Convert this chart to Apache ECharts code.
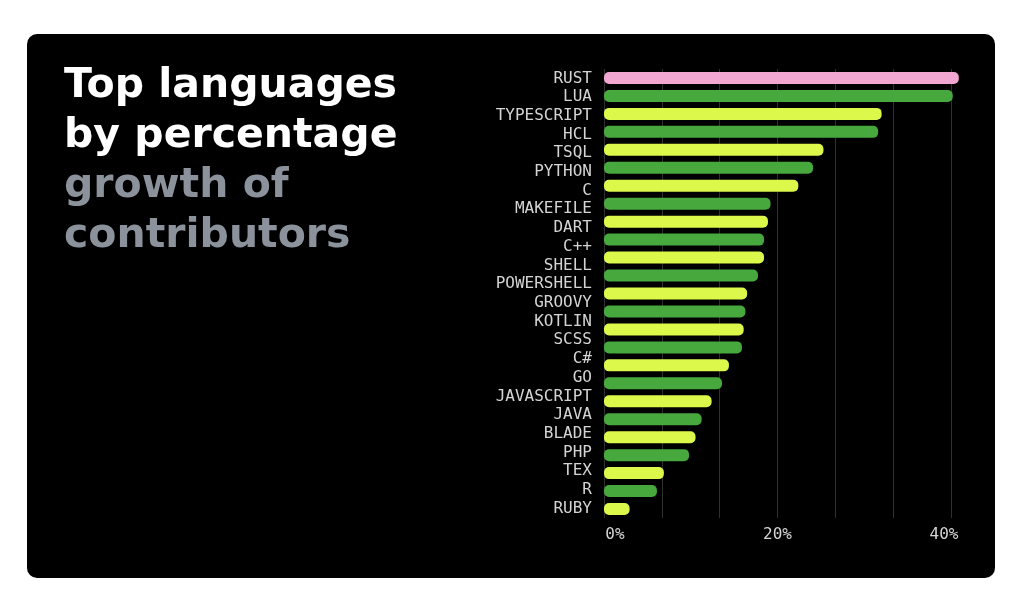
<!DOCTYPE html>
<html>
<head>
<meta charset="utf-8">
<script src="https://cdn.jsdelivr.net/npm/echarts@6/dist/echarts.min.js"></script>
<style>
  html, body { margin: 0; padding: 0; background: #ffffff; }
  #panel { position: absolute; left: 27px; top: 34px; width: 968px; height: 544px; background: #000000; border-radius: 10px; }
  #chart { position: absolute; left: 0; top: 0; width: 1024px; height: 608px; }
</style>
</head>
<body>
<div id="panel"></div>
<div id="chart"></div>
<script>
const titleLines = ['Top languages', 'by percentage'];
const subtitleLines = ['growth of', 'contributors'];
// Label column as printed (24 names)
const categories = ['RUST', 'LUA', 'TYPESCRIPT', 'HCL', 'TSQL', 'PYTHON', 'C', 'MAKEFILE', 'DART', 'C++',
  'SHELL', 'POWERSHELL', 'GROOVY', 'KOTLIN', 'SCSS', 'C#', 'GO', 'JAVASCRIPT', 'JAVA', 'BLADE',
  'PHP', 'TEX', 'R', 'RUBY'];
// Bar column as drawn (25 bars, top to bottom)
const growthPct = [40.9, 40.2, 32.0, 31.6, 25.3, 24.1, 22.4, 19.2, 18.9, 18.45,
  18.45, 17.75, 16.5, 16.3, 16.1, 15.9, 14.4, 13.6, 12.4, 11.25,
  10.55, 9.8, 6.9, 6.1, 2.95];
const axisTicks = [0, 20, 40];

const PINK = '#f2a6d2', GREEN = '#47a83e', LIME = '#dbf84b';
function barColor(i) { return i === 0 ? PINK : (i % 2 === 1 ? GREEN : LIME); }

const chart = echarts.init(document.getElementById('chart'), null, { renderer: 'canvas' });
const monoFont = '"DejaVu Sans Mono", monospace';
const titleFont = '"DejaVu Sans", sans-serif';
const labelColor = '#d4d4d4';

chart.setOption({
  backgroundColor: 'transparent',
  animation: false,
  title: {
    left: 59,
    top: 56,
    text: '{w|' + titleLines.join('}\n{w|') + '}\n{g|' + subtitleLines.join('}\n{g|') + '}',
    textStyle: {
      rich: {
        w: { color: '#ffffff', fontFamily: titleFont, fontWeight: 'bold', fontSize: 41, lineHeight: 50 },
        g: { color: '#8b929b', fontFamily: titleFont, fontWeight: 'bold', fontSize: 41, lineHeight: 50 }
      }
    }
  },
  grid: { left: 604, right: 73, top: 69, bottom: 90, containLabel: false, outerBoundsMode: 'none' },
  xAxis: {
    type: 'value',
    min: axisTicks[0],
    max: axisTicks[axisTicks.length - 1],
    interval: axisTicks[1] - axisTicks[0],
    axisLine: { show: false },
    axisTick: { show: false },
    minorTick: { show: false, splitNumber: 3 },
    splitLine: { show: true, lineStyle: { color: '#303030', width: 1 } },
    minorSplitLine: { show: true, lineStyle: { color: '#303030', width: 1 } },
    axisLabel: {
      margin: 9,
      color: labelColor,
      fontFamily: monoFont,
      fontSize: 16,
      formatter: function (v) {
        const r = Math.round(v);
        if (r === 0) return '{l|' + r + '%}';
        if (r === 40) return '{m|' + r + '%}';
        return '{c|' + r + '%}';
      },
      rich: {
        l: { fontFamily: monoFont, fontSize: 16, color: labelColor, padding: [0, 0, 0, 22] },
        c: { fontFamily: monoFont, fontSize: 16, color: labelColor },
        m: { fontFamily: monoFont, fontSize: 16, color: labelColor, padding: [0, 14, 0, 0] }
      }
    }
  },
  yAxis: [{
    type: 'category',
    position: 'left',
    inverse: true,
    data: growthPct.map(function (v, i) { return String(i); }),
    axisLine: { show: false },
    axisTick: { show: false },
    splitLine: { show: false },
    axisLabel: { show: false }
  }, {
    type: 'category',
    position: 'left',
    offset: 0,
    inverse: true,
    data: categories,
    axisLine: { show: false },
    axisTick: { show: false },
    splitLine: { show: false },
    axisLabel: {
      interval: 0,
      margin: 12,
      color: labelColor,
      fontFamily: monoFont,
      fontSize: 16
    }
  }],
  series: [{
    type: 'bar',
    yAxisIndex: 0,
    data: growthPct.map(function (v, i) { return { value: v, itemStyle: { color: barColor(i) } }; }),
    barWidth: 12,
    clip: false,
    itemStyle: { borderRadius: 5 }
  }]
});
</script>
</body>
</html>
